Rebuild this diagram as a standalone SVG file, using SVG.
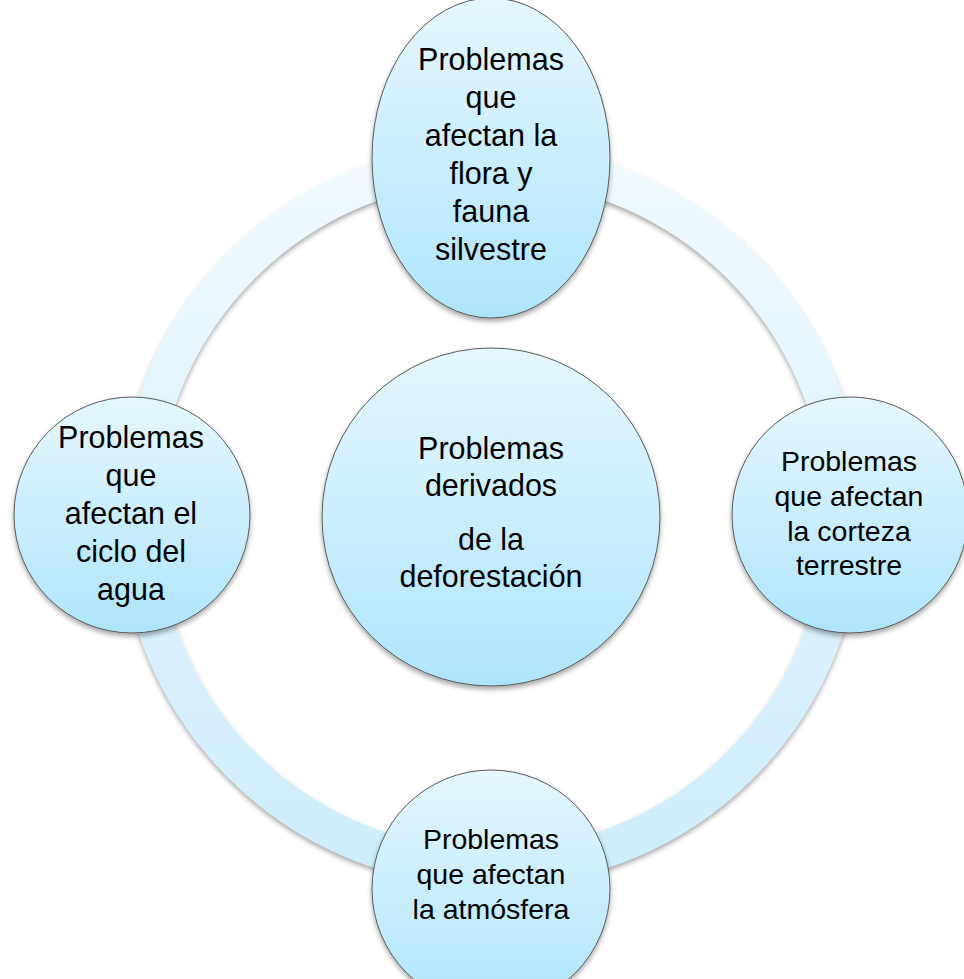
<svg xmlns="http://www.w3.org/2000/svg" width="964" height="979" viewBox="0 0 964 979">
  <defs>
    <linearGradient id="nodeFill" x1="0" y1="0" x2="0" y2="1">
      <stop offset="0" stop-color="#e6f7fe"/>
      <stop offset="1" stop-color="#aee5fb"/>
    </linearGradient>
    <linearGradient id="ringFill" gradientUnits="userSpaceOnUse" x1="0" y1="145" x2="0" y2="885">
      <stop offset="0" stop-color="#f1faff"/>
      <stop offset="1" stop-color="#cdedfa"/>
    </linearGradient>
    <filter id="shadow" x="-20%" y="-20%" width="140%" height="140%">
      <feDropShadow dx="0" dy="3" stdDeviation="2.5" flood-color="#000" flood-opacity="0.35"/>
    </filter>
  </defs>
  <style>
    .node { fill: url(#nodeFill); stroke: #5a5a5a; stroke-width: 1; filter: url(#shadow); }
    .lbl { font-family: "Liberation Sans", Arial, sans-serif; font-size: 30.5px; fill: #000; text-anchor: middle; }
    .sm { font-size: 28.5px; }
  </style>
  <rect width="964" height="979" fill="#ffffff"/>
  <g id="connectors">
    <circle cx="491" cy="515" r="353" fill="none" stroke="url(#ringFill)" stroke-width="37" filter="url(#shadow)"/>
  </g>
  <g id="node-top">
    <ellipse class="node" cx="491" cy="158" rx="119" ry="160"/>
    <text class="lbl" x="491" y="70">Problemas</text>
    <text class="lbl" x="491" y="108">que</text>
    <text class="lbl" x="491" y="146">afectan la</text>
    <text class="lbl" x="491" y="184">flora y</text>
    <text class="lbl" x="491" y="222">fauna</text>
    <text class="lbl" x="491" y="260">silvestre</text>
  </g>
  <g id="node-left">
    <circle class="node" cx="132" cy="515" r="118"/>
    <text class="lbl" x="131" y="448">Problemas</text>
    <text class="lbl" x="131" y="486">que</text>
    <text class="lbl" x="131" y="524">afectan el</text>
    <text class="lbl" x="131" y="562">ciclo del</text>
    <text class="lbl" x="131" y="600">agua</text>
  </g>
  <g id="node-right">
    <circle class="node" cx="850" cy="515" r="118"/>
    <text class="lbl sm" x="849" y="471">Problemas</text>
    <text class="lbl sm" x="849" y="506">que afectan</text>
    <text class="lbl sm" x="849" y="541">la corteza</text>
    <text class="lbl sm" x="849" y="575">terrestre</text>
  </g>
  <g id="node-bottom">
    <circle class="node" cx="491" cy="889" r="119"/>
    <text class="lbl sm" x="491" y="849">Problemas</text>
    <text class="lbl sm" x="491" y="884">que afectan</text>
    <text class="lbl sm" x="491" y="919">la atmósfera</text>
  </g>
  <g id="node-center">
    <circle class="node" cx="491" cy="517" r="169"/>
    <text class="lbl" x="491" y="459">Problemas</text>
    <text class="lbl" x="491" y="496">derivados</text>
    <text class="lbl" x="491" y="550">de la</text>
    <text class="lbl" x="491" y="587">deforestación</text>
  </g>
</svg>
